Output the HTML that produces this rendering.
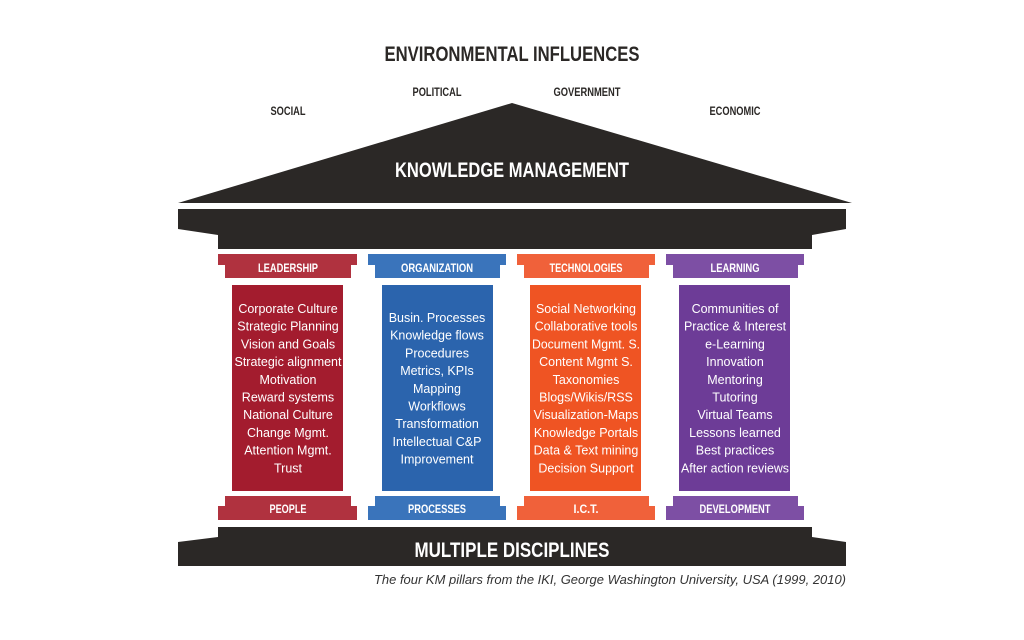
<!DOCTYPE html>
<html><head><meta charset="utf-8"><style>
html,body{margin:0;padding:0;background:#fff;width:1024px;height:640px;overflow:hidden}
svg{display:block}
.h{font-family:"Liberation Sans",sans-serif;font-weight:bold;fill:#fff}
.k{font-family:"Liberation Sans",sans-serif;font-weight:bold;fill:#2b2826}
.t{font-family:"Liberation Sans","DejaVu Sans",sans-serif;fill:#fff;font-size:12.5px}
</style></head><body>
<svg width="1024" height="640" viewBox="0 0 1024 640">
<text class="k" x="512" y="61" text-anchor="middle" font-size="21" textLength="255" lengthAdjust="spacingAndGlyphs">ENVIRONMENTAL INFLUENCES</text>
<text class="k" x="288" y="115" text-anchor="middle" font-size="11.5" textLength="35" lengthAdjust="spacingAndGlyphs">SOCIAL</text>
<text class="k" x="437" y="96" text-anchor="middle" font-size="11.5" textLength="49" lengthAdjust="spacingAndGlyphs">POLITICAL</text>
<text class="k" x="587" y="96" text-anchor="middle" font-size="11.5" textLength="67" lengthAdjust="spacingAndGlyphs">GOVERNMENT</text>
<text class="k" x="735" y="115" text-anchor="middle" font-size="11.5" textLength="51" lengthAdjust="spacingAndGlyphs">ECONOMIC</text>
<polygon points="512,103 852,203 178,203" fill="#2b2826"/>
<text class="h" x="512" y="177" text-anchor="middle" font-size="21" textLength="234" lengthAdjust="spacingAndGlyphs">KNOWLEDGE MANAGEMENT</text>
<polygon points="178,209 846,209 846,229 812,235 812,249 218,249 218,235 178,229" fill="#2b2826"/>
<polygon points="218,537 218,527 812,527 812,537 846,542 846,566 178,566 178,542" fill="#2b2826"/>
<text class="h" x="512" y="557" text-anchor="middle" font-size="21" textLength="195" lengthAdjust="spacingAndGlyphs">MULTIPLE DISCIPLINES</text>
<text x="846" y="584" text-anchor="end" font-family="Liberation Sans,sans-serif" font-style="italic" font-size="12.5" fill="#333" textLength="472" lengthAdjust="spacingAndGlyphs">The four KM pillars from the IKI, George Washington University, USA (1999, 2010)</text>

<g>
<polygon points="218,254 357,254 357,265 351,265 351,278 225,278 225,265 218,265" fill="#b0323f"/>
<rect x="232" y="285" width="111" height="206" fill="#a31c2e"/>
<polygon points="225,496 351,496 351,506 357,506 357,520 218,520 218,506 225,506" fill="#b0323f"/>
<text class="h" x="288" y="272" text-anchor="middle" font-size="11.5" textLength="60" lengthAdjust="spacingAndGlyphs">LEADERSHIP</text>
<text class="h" x="288" y="513" text-anchor="middle" font-size="11.5" textLength="37" lengthAdjust="spacingAndGlyphs">PEOPLE</text>
<text class="t" text-anchor="middle"><tspan x="288" y="313">Corporate Culture</tspan><tspan x="288" dy="17.7">Strategic Planning</tspan><tspan x="288" dy="17.7">Vision and Goals</tspan><tspan x="288" dy="17.7">Strategic alignment</tspan><tspan x="288" dy="17.7">Motivation</tspan><tspan x="288" dy="17.7">Reward systems</tspan><tspan x="288" dy="17.7">National Culture</tspan><tspan x="288" dy="17.7">Change Mgmt.</tspan><tspan x="288" dy="17.7">Attention Mgmt.</tspan><tspan x="288" dy="17.7">Trust</tspan></text>
</g>
<g>
<polygon points="368,254 506,254 506,265 500,265 500,278 375,278 375,265 368,265" fill="#3a74bb"/>
<rect x="382" y="285" width="111" height="206" fill="#2b64ad"/>
<polygon points="375,496 500,496 500,506 506,506 506,520 368,520 368,506 375,506" fill="#3a74bb"/>
<text class="h" x="437" y="272" text-anchor="middle" font-size="11.5" textLength="72" lengthAdjust="spacingAndGlyphs">ORGANIZATION</text>
<text class="h" x="437" y="513" text-anchor="middle" font-size="11.5" textLength="58" lengthAdjust="spacingAndGlyphs">PROCESSES</text>
<text class="t" text-anchor="middle"><tspan x="437" y="322">Busin. Processes</tspan><tspan x="437" dy="17.7">Knowledge flows</tspan><tspan x="437" dy="17.7">Procedures</tspan><tspan x="437" dy="17.7">Metrics, KPIs</tspan><tspan x="437" dy="17.7">Mapping</tspan><tspan x="437" dy="17.7">Workflows</tspan><tspan x="437" dy="17.7">Transformation</tspan><tspan x="437" dy="17.7">Intellectual C&amp;P</tspan><tspan x="437" dy="17.7">Improvement</tspan></text>
</g>
<g>
<polygon points="517,254 655,254 655,265 649,265 649,278 524,278 524,265 517,265" fill="#f0613a"/>
<rect x="530" y="285" width="111" height="206" fill="#ef5423"/>
<polygon points="524,496 649,496 649,506 655,506 655,520 517,520 517,506 524,506" fill="#f0613a"/>
<text class="h" x="586" y="272" text-anchor="middle" font-size="11.5" textLength="73" lengthAdjust="spacingAndGlyphs">TECHNOLOGIES</text>
<text class="h" x="586" y="513" text-anchor="middle" font-size="11.5" textLength="25" lengthAdjust="spacingAndGlyphs">I.C.T.</text>
<text class="t" text-anchor="middle"><tspan x="586" y="313">Social Networking</tspan><tspan x="586" dy="17.7">Collaborative tools</tspan><tspan x="586" dy="17.7" textLength="108" lengthAdjust="spacingAndGlyphs">Document Mgmt. S.</tspan><tspan x="586" dy="17.7">Content Mgmt S.</tspan><tspan x="586" dy="17.7">Taxonomies</tspan><tspan x="586" dy="17.7">Blogs/Wikis/RSS</tspan><tspan x="586" dy="17.7">Visualization-Maps</tspan><tspan x="586" dy="17.7">Knowledge Portals</tspan><tspan x="586" dy="17.7">Data &amp; Text mining</tspan><tspan x="586" dy="17.7">Decision Support</tspan></text>
</g>
<g>
<polygon points="666,254 804,254 804,265 798,265 798,278 673,278 673,265 666,265" fill="#7d4fa4"/>
<rect x="679" y="285" width="111" height="206" fill="#6d3c97"/>
<polygon points="673,496 798,496 798,506 804,506 804,520 666,520 666,506 673,506" fill="#7d4fa4"/>
<text class="h" x="735" y="272" text-anchor="middle" font-size="11.5" textLength="49" lengthAdjust="spacingAndGlyphs">LEARNING</text>
<text class="h" x="735" y="513" text-anchor="middle" font-size="11.5" textLength="71" lengthAdjust="spacingAndGlyphs">DEVELOPMENT</text>
<text class="t" text-anchor="middle"><tspan x="735" y="313">Communities of</tspan><tspan x="735" dy="17.7">Practice &amp; Interest</tspan><tspan x="735" dy="17.7">e-Learning</tspan><tspan x="735" dy="17.7">Innovation</tspan><tspan x="735" dy="17.7">Mentoring</tspan><tspan x="735" dy="17.7">Tutoring</tspan><tspan x="735" dy="17.7">Virtual Teams</tspan><tspan x="735" dy="17.7">Lessons learned</tspan><tspan x="735" dy="17.7">Best practices</tspan><tspan x="735" dy="17.7" textLength="108" lengthAdjust="spacingAndGlyphs">After action reviews</tspan></text>
</g>
</svg>
</body></html>
